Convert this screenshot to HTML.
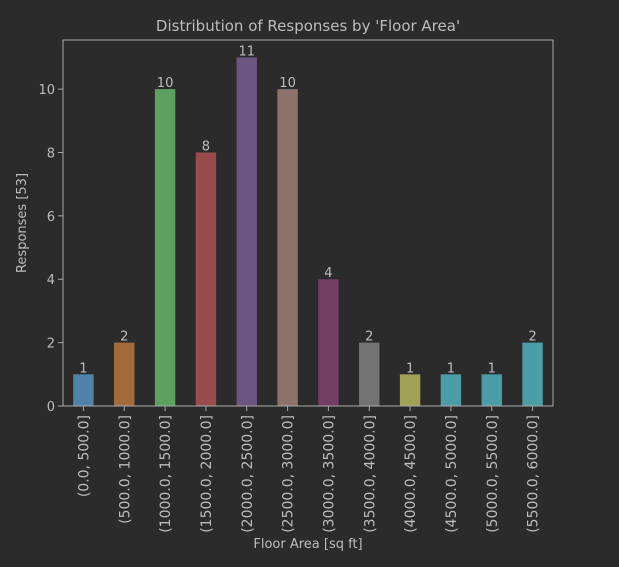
<!DOCTYPE html>
<html><head><meta charset="utf-8"><style>
html,body{margin:0;padding:0;background:#2b2b2b;}
svg{display:block;font-family:"DejaVu Sans","Liberation Sans",sans-serif;}
</style></head><body>
<svg id="chart" width="619" height="567" viewBox="0 0 619 567" xmlns="http://www.w3.org/2000/svg">
<rect width="619" height="567" fill="#2b2b2b"/>
<text x="308" y="31" text-anchor="middle" font-size="15" fill="#bdbdbd">Distribution of Responses by 'Floor Area'</text>
<g id="plot"></g>
<text x="308" y="548" text-anchor="middle" font-size="13" fill="#bdbdbd">Floor Area [sq ft]</text>
<text transform="translate(26,223) rotate(-90)" text-anchor="middle" font-size="13" fill="#bdbdbd">Responses [53]</text>
</svg>
<script>
const categories = ["(0.0, 500.0]","(500.0, 1000.0]","(1000.0, 1500.0]","(1500.0, 2000.0]","(2000.0, 2500.0]","(2500.0, 3000.0]","(3000.0, 3500.0]","(3500.0, 4000.0]","(4000.0, 4500.0]","(4500.0, 5000.0]","(5000.0, 5500.0]","(5500.0, 6000.0]"];
const values = [1,2,10,8,11,10,4,2,1,1,1,2];
const yTicks = [0,2,4,6,8,10];
const colors = ["#4f84a8","#a46b3a","#5da160","#9a4c4c","#6b5682","#8e716b","#733e63","#737373","#a1a255","#4b9ea7","#4b9ea7","#4b9ea7"];

const L=63,R=553,T=40,B=406,yMax=11.55;
const NS="http://www.w3.org/2000/svg";
const g=document.getElementById('plot');
const y=v=>B-(v/yMax)*(B-T);
const step=(R-L)/categories.length;
const x=i=>L+step*(i+0.5);
function mk(t,a){const e=document.createElementNS(NS,t);for(const k in a)e.setAttribute(k,a[k]);g.appendChild(e);return e;}
values.forEach((v,i)=>{
  const w=step*0.5;
  const r=mk('rect',{x:x(i)-w/2,y:y(v),width:w,height:B-y(v),fill:colors[i]});
  
  
  const t=mk('text',{x:x(i),y:y(v)-2,'text-anchor':'middle','font-size':'13',fill:'#bdbdbd'});
  t.textContent=v;
  
  
  const tk=mk('line',{x1:x(i),x2:x(i),y1:B,y2:B+5,stroke:'#aaa'});
  
  
  const lb=mk('text',{transform:`translate(${x(i)+5},${B+9}) rotate(-90)`,'text-anchor':'end','font-size':'14',fill:'#bdbdbd'});
  lb.textContent=categories[i];
  
  
});
yTicks.forEach(v=>{
  const tk=mk('line',{x1:L-5,x2:L,y1:y(v),y2:y(v),stroke:'#aaa'});
  
  
  const lb=mk('text',{x:L-8,y:y(v)+5,'text-anchor':'end','font-size':'13',fill:'#bdbdbd'});
  lb.textContent=v;
  
  
});
const fr=mk('rect',{x:L,y:T,width:R-L,height:B-T,fill:'none',stroke:'#aaa','stroke-width':1});


</script>
</body></html>
